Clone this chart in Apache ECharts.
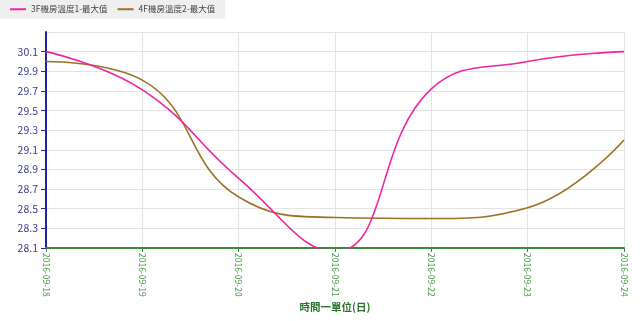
<!DOCTYPE html>
<html>
<head>
<meta charset="utf-8">
<script src="https://cdn.jsdelivr.net/npm/echarts@6/dist/echarts.min.js"></script>
<style>html,body{margin:0;padding:0;background:#fff}#c{width:640px;height:321px}</style>
</head>
<body>
<div id="c"></div>
<script>
const categories = ['2016-09-18','2016-09-19','2016-09-20','2016-09-21','2016-09-22','2016-09-23','2016-09-24'];
const series1Name = '3F機房溫度1-最大值';
const series2Name = '4F機房溫度2-最大值';
const series1 = [30.10, 29.71, 28.81, 28.06, 29.72, 30.00, 30.10];
const series2 = [30.00, 29.81, 28.62, 28.41, 28.40, 28.51, 29.20];
const xName = '時間一單位(日)';

const chart = echarts.init(document.getElementById('c'), null, {renderer: 'canvas'});
const font = '"Noto Sans CJK TC", "Noto Sans", sans-serif';
chart.setOption({
  animation: false,
  textStyle: {fontFamily: font},
  legend: {
    left: 0, top: 0,
    padding: [5, 10, 5, 10],
    backgroundColor: '#efefef',
    itemWidth: 16, itemHeight: 2, itemGap: 10,
    icon: 'rect',
    textStyle: {fontSize: 8.5, color: '#444', fontFamily: font},
    data: [series1Name, series2Name]
  },
  grid: {left: 46, right: 16, top: 32, bottom: 73, containLabel: false, outerBoundsMode: 'none'},
  xAxis: {
    type: 'category',
    data: categories,
    boundaryGap: false,
    name: xName,
    nameLocation: 'middle',
    nameGap: 54,
    nameMoveOverlap: false,
    nameTextStyle: {color: '#2a742a', fontWeight: 'bold', fontSize: 10.5, fontFamily: font},
    axisLine: {lineStyle: {color: '#3a8a3a', width: 2}},
    axisTick: {show: true, length: 4, lineStyle: {color: '#3a8a3a'}},
    axisLabel: {rotate: -90, color: '#4a964a', fontSize: 8.5, margin: 5, interval: 0},
    splitLine: {show: true, lineStyle: {color: '#e4e4e4'}}
  },
  yAxis: {
    type: 'value',
    min: 28.1, max: 30.3, interval: 0.2,
    axisLine: {show: true, lineStyle: {color: '#2323a0', width: 2}},
    axisTick: {show: true, length: 5, lineStyle: {color: '#2323a0'}},
    axisLabel: {color: '#3a3a88', fontSize: 10.5, margin: 8, showMaxLabel: false,
      formatter: v => v.toFixed(1)},
    splitLine: {show: true, lineStyle: {color: '#e4e4e4'}}
  },
  series: [
    {name: series1Name, type: 'line', data: series1, smooth: 0.45, symbol: 'none',
     lineStyle: {color: '#f0249c', width: 1.6}, itemStyle: {color: '#f0249c'}, z: 3},
    {name: series2Name, type: 'line', data: series2, smooth: 0.45, symbol: 'none',
     lineStyle: {color: '#9a7222', width: 1.6}, itemStyle: {color: '#9a7222'}, z: 2}
  ]
});
</script>
</body>
</html>
